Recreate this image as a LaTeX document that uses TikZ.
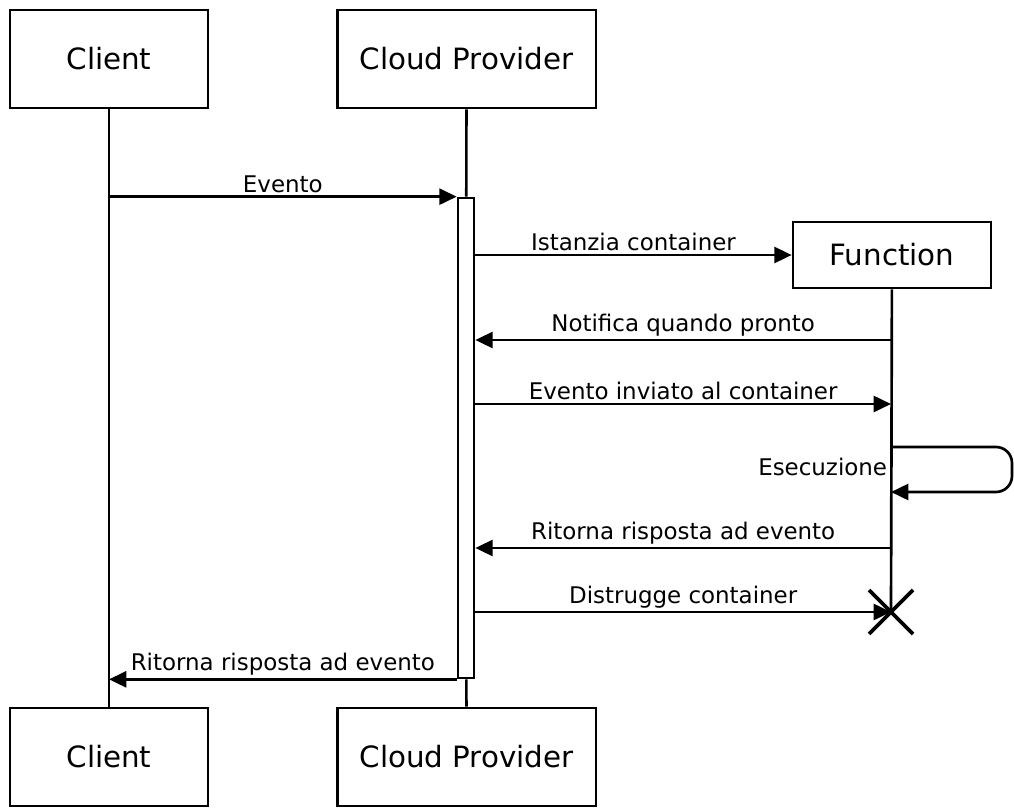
\documentclass[tikz,border=0pt]{standalone}
\usepackage{fontspec}
\setmainfont{DejaVu Sans}
\usetikzlibrary{arrows.meta, positioning, calc}

\begin{document}
\begin{tikzpicture}[
            x=0.75pt, y=-0.75pt,
            actor/.style={rectangle, draw, line width=2pt, fill=white,
                          minimum height=73.5pt, font=\fontsize{22}{26}\selectfont},
            bar/.style={rectangle, draw, line width=2pt, fill=white,
                        minimum width=12pt, minimum height=360pt, inner sep=0pt},
            life/.style={line width=2pt},
            msg/.style={-{Triangle[length=13pt, width=12pt]}, line width=2pt},
            lbl/.style={font=\fontsize{17.2}{20}\selectfont, inner sep=2pt}
        ]
            \useasboundingbox (0,0) rectangle (1014,807);

            \node[actor, minimum width=148.5pt] (cltop) at (109,59) {Client};
            \node[actor, minimum width=194pt] (cptop) at (466.5,59) {Cloud Provider};
            \node[actor, minimum width=148.5pt] (clbot) at (109,757) {Client};
            \node[actor, minimum width=194pt] (cpbot) at (466.5,757) {Cloud Provider};
            \node[actor, minimum width=148.5pt, minimum height=49.5pt] (fn) at (892,255) {Function};
            \node[bar] (act) at (466,438) {};

            % points on the lifelines
            \coordinate (fn1) at (891,340);
            \coordinate (fn2) at (891,404);
            \coordinate (fn3) at (891,447);
            \coordinate (fn4) at (891,492);
            \coordinate (fn5) at (891,548);
            \coordinate (fnend) at (891,612);

            % lifelines
            \draw[life] (cltop) -- (clbot);
            \draw[life] (cptop) -- (act);
            \draw[life] (act) -- (cpbot);
            \draw[life] (fn) -- (fnend);

            % messages
            \draw[msg] (cltop.south |- act.north) -- node[lbl, above] {Evento} (act.north west);
            \draw[msg] (act.east |- fn.west) -- node[lbl, above] {Istanzia container} (fn.west);
            \draw[msg] (fn1) -- node[lbl, above] {Notifica quando pronto} (act.east |- fn1);
            \draw[msg] (act.east |- fn2) -- node[lbl, above] {Evento inviato al container} (fn2);
            \draw[msg, rounded corners=12pt] (fn3) -- (1012,447) -- (1012,492) -- (fn4);
            \node[lbl, anchor=east] (exec) at (890,467) {Esecuzione};
            \draw[msg] (fn5) -- node[lbl, above] {Ritorna risposta ad evento} (act.east |- fn5);
            \draw[msg] (act.east |- fnend) -- node[lbl, above] {Distrugge container} (fnend);
            \draw[msg] (act.south west) -- node[lbl, above] {Ritorna risposta ad evento} (cltop.south |- act.south west);

            % destroy mark
            \draw[line width=2.8pt] ($(fnend)+(-22,-22)$) -- ($(fnend)+(22,22)$)
                                    ($(fnend)+(-22,22)$) -- ($(fnend)+(22,-22)$);
        \end{tikzpicture}
\end{document}
